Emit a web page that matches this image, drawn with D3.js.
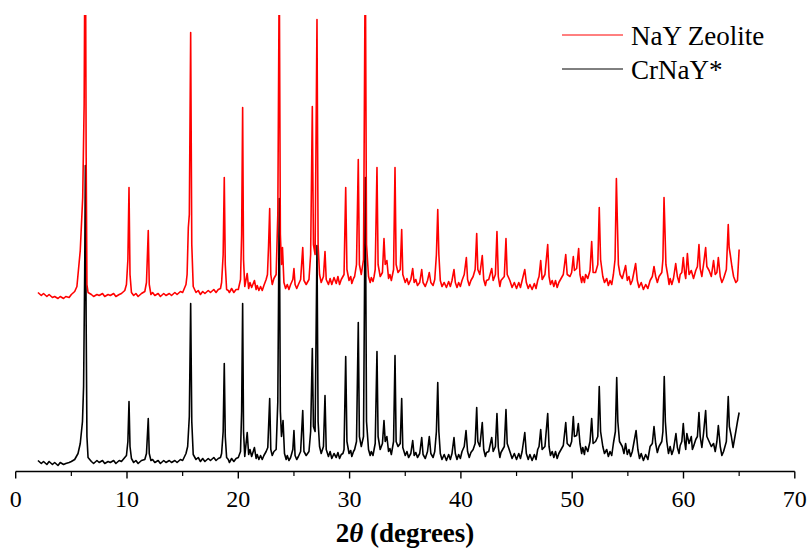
<!DOCTYPE html>
<html>
<head>
<meta charset="utf-8">
<script src="https://cdn.jsdelivr.net/npm/d3@7"></script>
<style>
  html, body { margin: 0; padding: 0; background: #fff; }
  svg { display: block; }
  svg text { font-family: "Liberation Serif", Tinos, "Nimbus Roman", "Nimbus Roman No9 L", FreeSerif, "Noto Serif", "DejaVu Serif", "Times New Roman", Times, serif; }
</style>
</head>
<body>
<svg id="chart" width="807" height="548"></svg>
<script>
// X-ray diffraction patterns: 2θ (degrees) vs. intensity (arbitrary units)
const seriesNames = ["NaY Zeolite", "CrNaY*"];
const xTicks = [0, 10, 20, 30, 40, 50, 60, 70];
const xMinorTicks = [5, 15, 25, 35, 45, 55, 65];

// NaY zeolite pattern [2θ, intensity]
const nayPattern = [
  [2.0,12],[2.3,9],[2.5,11],[2.8,8],[3.0,10],[3.3,7],[3.5,8],[3.8,6],[4.0,8],[4.3,6],[4.5,8],[4.8,7],[5.0,10],[5.3,13],
  [5.5,18],[5.8,54],[6.02,107],[6.15,200],[6.25,430],[6.33,150],[6.4,20],[6.5,12],[6.8,10],
  [7.0,8],[7.3,10],[7.5,9],[7.8,11],[8.0,8],[8.3,10],[8.5,9],[8.8,11],[9.0,8],[9.3,10],[9.5,11],[9.8,14],
  [9.95,20],[10.08,45],[10.18,117],[10.27,30],[10.4,12],
  [10.6,9],[10.8,11],[11.0,8],[11.3,11],[11.6,13],
  [11.75,22],[11.91,74],[12.0,20],[12.15,10],
  [12.3,12],[12.5,9],[12.8,11],[13.0,8],[13.3,11],[13.5,9],[13.8,11],[14.0,9],[14.3,12],[14.5,10],[14.8,13],[15.0,12],[15.3,20],
  [15.4,30],[15.51,77],[15.6,90],[15.72,272],[15.82,60],[15.95,18],[16.2,12],
  [16.4,14],[16.6,10],[16.8,13],[17.0,11],[17.3,14],[17.5,12],[17.8,15],[18.0,12],[18.2,15],[18.4,16],
  [18.5,22],[18.64,50],[18.74,127],[18.83,40],[18.95,15],
  [19.1,14],[19.2,12],[19.4,16],[19.6,12],[19.8,15],[20.0,15],
  [20.2,25],[20.3,70],[20.39,197],[20.47,45],[20.58,18],
  [20.8,31],[20.93,16],
  [21.05,22],[21.2,17],[21.45,24],[21.6,15],[21.7,19],[21.85,14],[22.0,18],[22.15,14],[22.3,19],[22.5,25],
  [22.62,30],[22.72,59],[22.82,96],[22.92,30],[23.05,20],
  [23.2,26],[23.4,30],[23.55,90],[23.68,340],[23.78,70],[23.88,40],
  [23.97,57],[24.1,22],[24.25,16],[24.4,20],[24.55,15],
  [24.7,20],[24.9,25],[25.0,36],[25.1,20],[25.25,16],[25.4,20],
  [25.6,25],[25.79,57],[25.9,24],[26.1,20],[26.35,25],
  [26.5,50],[26.65,198],[26.75,60],
  [26.9,50],[27.07,285],[27.17,60],[27.3,30],[27.45,22],
  [27.65,28],[27.79,53],[27.9,25],[28.1,20],
  [28.25,26],[28.4,20],[28.6,27],[28.8,21],[28.95,28],[29.1,20],[29.25,25],[29.4,28],
  [29.5,30],[29.65,117],[29.76,35],[29.95,24],
  [30.1,28],[30.2,21],[30.35,26],[30.45,28],
  [30.62,40],[30.78,145],[30.88,40],[31.05,30],
  [31.25,45],[31.41,360],[31.52,60],[31.7,28],[31.85,22],[31.95,27],[32.1,23],[32.2,28],
  [32.3,35],[32.46,137],[32.56,40],[32.75,28],
  [32.95,32],[33.09,66],[33.2,40],[33.35,44],[33.5,26],
  [33.62,30],[33.75,24],[33.95,35],[34.08,137],[34.18,40],[34.35,32],
  [34.55,35],[34.68,75],[34.78,30],[35.0,22],
  [35.15,26],[35.3,20],[35.5,25],[35.67,36],[35.8,22],[35.95,25],[36.1,19],
  [36.3,22],[36.48,35],[36.6,22],[36.8,18],
  [37.0,24],[37.16,32],[37.3,22],[37.5,19],
  [37.65,25],[37.8,50],[37.92,95],[38.02,50],[38.15,24],
  [38.3,18],[38.5,22],[38.7,17],[38.9,23],[39.05,18],[39.2,24],
  [39.38,35],[39.5,22],[39.65,17],[39.8,22],[39.95,18],[40.1,24],[40.3,30],
  [40.49,47],[40.6,25],[40.75,19],[40.9,24],[41.1,28],
  [41.28,35],[41.42,71],[41.52,35],[41.7,30],
  [41.92,49],[42.05,25],[42.2,19],[42.3,24],[42.5,25],
  [42.77,36],[42.9,24],
  [43.1,30],[43.24,73],[43.36,28],[43.5,18],[43.6,24],
  [43.9,28],[44.05,66],[44.16,30],[44.4,24],
  [44.6,17],[44.8,22],[45.0,16],[45.2,22],[45.35,17],[45.5,24],
  [45.74,35],[45.88,22],[46.05,16],[46.2,20],[46.4,15],[46.6,21],[46.75,16],[46.9,24],
  [47.02,28],[47.17,44],[47.3,25],[47.55,30],
  [47.8,60],[47.92,28],[48.05,20],[48.2,24],
  [48.35,18],[48.5,24],[48.65,17],[48.8,22],[49.0,26],[49.2,30],
  [49.42,50],[49.55,30],[49.8,28],
  [49.95,32],[50.1,48],[50.2,34],
  [50.4,36],[50.58,56],[50.7,30],[50.85,22],[50.95,28],[51.1,22],[51.2,30],
  [51.4,26],[51.6,34],[51.75,63],[51.88,32],[52.1,32],
  [52.3,40],[52.43,97],[52.55,45],[52.75,28],[52.9,22],[53.1,26],[53.25,19],[53.4,24],[53.55,20],[53.7,30],
  [53.85,45],[53.97,126],[54.06,82],[54.15,40],[54.3,30],[54.5,26],[54.8,39],[54.95,24],
  [55.1,28],[55.25,20],[55.4,24],
  [55.7,41],[55.85,24],[56.0,17],[56.2,22],[56.4,15],[56.6,20],[56.8,16],[57.0,24],
  [57.2,28],[57.35,38],[57.5,28],[57.65,22],[57.8,28],[58.05,32],
  [58.15,45],[58.25,107],[58.33,76],[58.42,40],[58.6,28],[58.7,20],[58.8,26],
  [58.95,20],[59.1,26],[59.3,41],[59.45,28],[59.6,22],[59.7,30],
  [59.85,32],[59.98,47],[60.1,32],[60.2,26],[60.35,51],[60.5,30],
  [60.7,34],[60.9,26],[61.1,34],
  [61.25,38],[61.39,60],[61.5,36],[61.65,28],
  [61.8,40],[61.99,57],[62.1,38],[62.3,34],[62.5,28],[62.7,44],[62.85,30],
  [63.0,32],[63.13,47],[63.3,28],[63.45,22],[63.6,26],
  [63.85,35],[64.02,80],[64.1,57],[64.2,50],[64.35,38],[64.5,28],[64.7,22],[64.85,24],[65.0,55]
];

// Cr-exchanged NaY pattern [2θ, intensity]
const crnayPattern = [
  [2.0,11],[2.3,8],[2.5,10],[2.8,7],[3.0,10],[3.3,7],[3.5,9],[3.8,6],[4.0,9],[4.3,7],[4.5,8],[4.8,9],[5.0,10],[5.3,12],
  [5.6,18],[5.8,28],[6.0,50],[6.1,85],[6.2,200],[6.26,306],[6.33,150],[6.4,35],[6.5,14],[6.8,10],
  [7.0,8],[7.3,11],[7.5,9],[7.8,11],[8.0,8],[8.3,10],[8.5,9],[8.8,11],[9.0,8],[9.3,11],[9.5,10],[9.8,14],
  [9.95,16],[10.08,30],[10.18,70],[10.27,25],[10.4,13],
  [10.6,9],[10.8,11],[11.0,8],[11.3,11],[11.6,12],
  [11.75,18],[11.91,53],[12.0,18],[12.15,11],
  [12.3,12],[12.5,9],[12.8,11],[13.0,8],[13.3,11],[13.5,9],[13.8,11],[14.0,9],[14.3,11],[14.5,9],[14.8,12],[15.0,11],[15.3,18],
  [15.45,25],[15.6,55],[15.72,168],[15.82,50],[15.95,17],[16.2,12],
  [16.4,14],[16.6,10],[16.8,13],[17.0,10],[17.3,13],[17.5,11],[17.8,14],[18.0,11],[18.2,13],[18.4,14],
  [18.5,18],[18.64,40],[18.74,108],[18.83,35],[18.95,14],
  [19.1,12],[19.2,9],[19.4,13],[19.6,10],[19.8,13],[20.0,14],
  [20.2,20],[20.3,60],[20.39,168],[20.47,40],[20.58,15],
  [20.8,39],[20.93,17],
  [21.05,22],[21.2,15],[21.45,24],[21.6,13],[21.7,17],[21.85,12],[22.0,16],[22.15,12],[22.3,16],[22.5,20],
  [22.65,24],[22.82,73],[22.92,22],[23.05,16],
  [23.2,20],[23.4,22],[23.55,70],[23.68,273],[23.78,60],[23.88,35],
  [24.02,51],[24.15,18],[24.3,12],[24.4,16],[24.55,11],
  [24.7,14],[24.9,22],[25.0,41],[25.1,16],[25.25,12],[25.4,15],
  [25.6,20],[25.79,61],[25.9,20],[26.1,16],[26.35,20],
  [26.5,40],[26.65,123],[26.75,45],
  [26.9,40],[27.07,226],[27.17,50],[27.3,25],[27.45,18],
  [27.65,25],[27.79,76],[27.9,22],[28.1,15],
  [28.25,20],[28.4,13],[28.6,18],[28.8,14],[28.95,19],[29.1,13],[29.25,17],[29.4,18],
  [29.5,22],[29.65,115],[29.76,30],[29.95,18],
  [30.1,21],[30.2,15],[30.35,20],[30.45,22],
  [30.62,30],[30.78,149],[30.88,35],[31.05,25],
  [31.25,35],[31.41,294],[31.52,50],[31.7,22],[31.85,16],[31.95,20],[32.1,16],[32.2,22],
  [32.3,28],[32.46,120],[32.56,35],[32.75,22],
  [32.95,28],[33.09,51],[33.2,30],[33.35,35],[33.5,20],
  [33.62,23],[33.75,17],[33.95,30],[34.08,116],[34.18,30],[34.35,25],
  [34.55,28],[34.68,73],[34.78,24],[35.0,16],
  [35.15,20],[35.3,14],[35.5,18],[35.67,31],[35.8,16],[35.95,19],[36.1,14],
  [36.3,18],[36.48,34],[36.6,17],[36.8,13],
  [37.0,20],[37.16,35],[37.3,18],[37.5,14],
  [37.65,20],[37.8,40],[37.92,89],[38.02,40],[38.15,18],
  [38.3,12],[38.5,17],[38.7,11],[38.9,17],[39.05,12],[39.2,18],
  [39.38,34],[39.5,18],[39.65,12],[39.8,17],[39.95,13],[40.1,20],[40.3,25],
  [40.46,41],[40.6,20],[40.75,14],[40.9,19],[41.1,22],
  [41.28,28],[41.42,64],[41.52,30],[41.7,25],
  [41.92,49],[42.05,22],[42.2,15],[42.3,19],[42.5,20],
  [42.77,34],[42.9,20],
  [43.1,25],[43.24,58],[43.36,24],[43.5,14],[43.6,19],
  [43.9,25],[44.05,62],[44.16,28],[44.4,20],
  [44.6,13],[44.8,18],[45.0,12],[45.2,18],[45.35,13],[45.5,20],
  [45.74,39],[45.88,18],[46.05,12],[46.2,17],[46.4,11],[46.6,17],[46.75,12],[46.9,22],
  [47.02,25],[47.17,42],[47.3,22],[47.55,25],
  [47.8,58],[47.92,25],[48.05,16],[48.2,20],
  [48.35,14],[48.5,20],[48.65,13],[48.8,18],[49.0,22],[49.2,26],
  [49.42,49],[49.55,28],[49.8,25],
  [49.95,30],[50.1,55],[50.2,35],
  [50.4,36],[50.55,48],[50.7,28],[50.85,18],[50.95,24],[51.1,17],[51.2,25],
  [51.4,20],[51.6,30],[51.75,53],[51.88,28],[52.1,30],
  [52.3,35],[52.43,85],[52.55,40],[52.75,25],[52.9,18],[53.1,22],[53.25,15],[53.4,20],[53.55,16],[53.7,28],
  [53.88,40],[54.0,94],[54.1,50],[54.25,30],[54.5,25],[54.65,18],[54.8,28],
  [54.95,17],[55.1,22],[55.25,15],[55.4,20],
  [55.74,41],[55.9,22],[56.05,13],[56.2,18],[56.4,11],[56.6,17],[56.8,12],[57.0,25],
  [57.2,28],[57.35,45],[57.5,28],[57.65,19],[57.8,25],[58.05,30],
  [58.15,40],[58.27,95],[58.37,50],[58.5,30],[58.65,18],[58.8,25],
  [58.95,17],[59.1,22],[59.32,38],[59.45,24],[59.6,18],[59.7,26],
  [59.85,30],[59.98,48],[60.1,30],[60.2,22],[60.3,38],[60.5,28],
  [60.7,35],[60.8,22],[60.9,25],[61.1,32],
  [61.25,35],[61.39,59],[61.5,35],[61.65,24],
  [61.8,38],[61.99,61],[62.1,35],[62.3,30],[62.5,25],[62.7,28],[62.85,20],
  [63.0,30],[63.13,46],[63.3,25],[63.45,16],[63.6,20],
  [63.85,30],[64.02,75],[64.12,45],[64.3,35],[64.45,24],[64.7,40],[64.85,50],[65.0,59]
];

// ---- layout ----
const width = 807, height = 548;
const plot = { left: 15.7, right: 794.8, top: 15, bottom: 471.5 };
const nayShift = 167;                  // vertical stacking of the upper pattern
const colors = { nay: "#ff0000", crnay: "#000000" };

const svg = d3.select("#chart");

const x = d3.scaleLinear().domain([0, 70]).range([plot.left, plot.right]);
const y = d3.scaleLinear().domain([0, plot.bottom - plot.top]).range([plot.bottom, plot.top]);

svg.append("defs").append("clipPath").attr("id", "plot-clip")
  .append("rect")
  .attr("x", 0).attr("y", plot.top)
  .attr("width", width).attr("height", plot.bottom - plot.top);

const line = d3.line()
  .x(d => x(d[0]))
  .y(d => y(d[1]));

const traces = svg.append("g").attr("clip-path", "url(#plot-clip)");

traces.append("path")
  .datum(crnayPattern.map(d => [d[0], d[1]]))
  .attr("fill", "none")
  .attr("stroke", colors.crnay)
  .attr("stroke-width", 1.6)
  .attr("stroke-linejoin", "round")
  .attr("d", line);

traces.append("path")
  .datum(nayPattern.map(d => [d[0], d[1] + nayShift]))
  .attr("fill", "none")
  .attr("stroke", colors.nay)
  .attr("stroke-width", 1.6)
  .attr("stroke-linejoin", "round")
  .attr("d", line);

// ---- x axis ----
const axisG = svg.append("g").attr("transform", `translate(0,${plot.bottom})`);
axisG.append("line")
  .attr("x1", x(0)).attr("x2", x(70))
  .attr("stroke", "#000").attr("stroke-width", 1.6);

axisG.selectAll(".major").data(xTicks).enter().append("line")
  .attr("class", "major")
  .attr("x1", d => x(d)).attr("x2", d => x(d))
  .attr("y1", 0).attr("y2", 7)
  .attr("stroke", "#000").attr("stroke-width", 1.4);

axisG.selectAll(".minor").data(xMinorTicks).enter().append("line")
  .attr("class", "minor")
  .attr("x1", d => x(d)).attr("x2", d => x(d))
  .attr("y1", 0).attr("y2", 4.5)
  .attr("stroke", "#000").attr("stroke-width", 1.2);

axisG.selectAll(".tick-label").data(xTicks).enter().append("text")
  .attr("class", "tick-label")
  .attr("x", d => x(d))
  .attr("y", 35)
  .attr("text-anchor", "middle")
  .attr("font-size", 24)
  .text(d => d);

const title = svg.append("text")
  .attr("x", 405)
  .attr("y", 542)
  .attr("text-anchor", "middle")
  .attr("font-size", 27)
  .attr("font-weight", "bold");
title.append("tspan").text("2");
title.append("tspan").attr("font-style", "italic").text("θ");
title.append("tspan").text(" (degrees)");

// ---- legend ----
const legendItems = [
  { name: seriesNames[0], color: colors.nay, y: 35 },
  { name: seriesNames[1], color: colors.crnay, y: 69 }
];
const legend = svg.append("g");
legendItems.forEach(item => {
  legend.append("line")
    .attr("x1", 562).attr("x2", 623)
    .attr("y1", item.y).attr("y2", item.y)
    .attr("stroke", item.color).attr("stroke-width", 1);
  legend.append("text")
    .attr("x", 631)
    .attr("y", item.y + 10)
    .attr("font-size", 27)
    .text(item.name);
});
</script>
</body>
</html>
